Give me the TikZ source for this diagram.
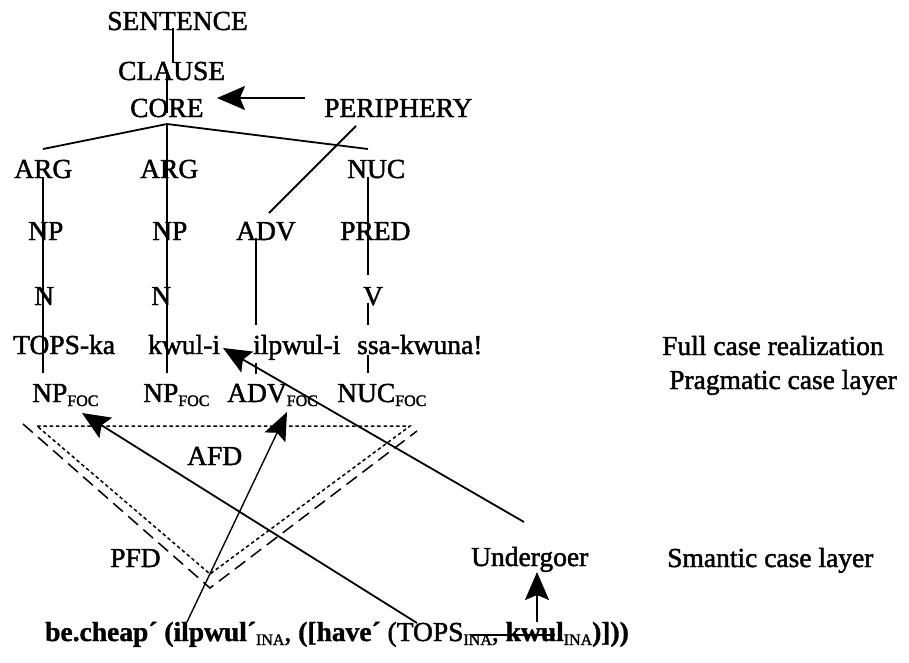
\documentclass[tikz,border=0pt]{standalone}
\usepackage{fontspec}
\setmainfont{Liberation Serif}[UprightFeatures={FakeBold=1.6},BoldFeatures={FakeBold=1.2}]
\usetikzlibrary{arrows.meta}
\newcommand{\lsub}[1]{\raisebox{-4pt}{\fontsize{16}{16}\selectfont #1}}
\tikzset{
  lbl/.style={anchor=base west,inner sep=0pt,font=\fontsize{27.5}{33}\selectfont},
  tree/.style={line width=1.8pt},
  bigarrow/.style={line width=1.8pt,-{Stealth[length=28pt,width=24pt,inset=5pt]}},
  thinarrow/.style={line width=1.4pt,-{Stealth[length=28pt,width=23pt,inset=5pt]}},
  afd/.style={line width=1.5pt,dash pattern=on 3.5pt off 2.8pt},
  pfd/.style={line width=1.5pt,dash pattern=on 13pt off 7pt},
}
\begin{document}
\begin{tikzpicture}[x=1pt,y=-1pt]
\useasboundingbox[fill=white] (0,0) rectangle (909,662);
% labels
\node[lbl] (sentence) at (107,30) {SENTENCE};
\node[lbl] (clause) at (118,80) {CLAUSE};
\node[lbl] (core) at (130,117) {CORE};
\node[lbl] (periphery) at (324,117) {PERIPHERY};
\node[lbl] (arg1) at (14,178) {ARG};
\node[lbl] (arg2) at (140,178) {ARG};
\node[lbl] (nuc) at (347,178) {NUC};
\node[lbl] (np1) at (28,240) {NP};
\node[lbl] (np2) at (152,240) {NP};
\node[lbl] (adv) at (236,240) {ADV};
\node[lbl] (pred) at (340,240) {PRED};
\node[lbl] (n1) at (34,305) {N};
\node[lbl] (n2) at (151,305) {N};
\node[lbl] (v) at (363,305) {V};
\node[lbl] (tops) at (13,354) {TOPS-ka};
\node[lbl] (kwul) at (148,354) {kwul-i};
\node[lbl] (ilpwul) at (253,354) {ilpwul-i};
\node[lbl] (ssa) at (357,354) {ssa-kwuna!};
\node[lbl] (full) at (662,355) {Full case realization};
\node[lbl] (npf1) at (32,402) {NP\lsub{FOC}};
\node[lbl] (npf2) at (143,402) {NP\lsub{FOC}};
\node[lbl] (advf) at (227,402) {ADV\lsub{FOC}};
\node[lbl] (nucf) at (337,402) {NUC\lsub{FOC}};
\node[lbl] (prag) at (669,389) {Pragmatic case layer};
\node[lbl] (afdl) at (187,465) {AFD};
\node[lbl] (pfdl) at (110,567) {PFD};
\node[lbl] (under) at (471,566) {Undergoer};
\node[lbl] (sem) at (667,567) {Smantic case layer};
\node[lbl] (formula) at (45,641) {\textbf{be.cheap´} \textbf{(ilpwul´}\lsub{INA}, \textbf{([have´} (TOPS\lsub{INA}, \textbf{kwul}\lsub{INA}\textbf{)]))}};
% tree coordinates
\coordinate (s1) at (173,28); \coordinate (s2) at (173,63);
\coordinate (c1) at (167,75); \coordinate (c2) at (167,113);
\coordinate (apex) at (167,124);
\coordinate (la) at (43,149); \coordinate (ra) at (368,149);
\coordinate (mb) at (167,373);
\coordinate (l1) at (43,177); \coordinate (l2) at (43,373);
\coordinate (r1) at (368,177); \coordinate (r2) at (368,275);
\coordinate (r3) at (368,303); \coordinate (r4) at (368,325);
\coordinate (r5) at (368,355); \coordinate (r6) at (368,373);
\coordinate (p1) at (356,126); \coordinate (p2) at (269,213);
\coordinate (a1) at (256,238); \coordinate (a2) at (256,325);
\coordinate (a3) at (256,363); \coordinate (a4) at (256,374);
\draw[tree] (s1) -- (s2);
\draw[tree] (c1) -- (c2);
\draw[tree] (la) -- (apex) -- (ra);
\draw[tree] (apex) -- (mb);
\draw[tree] (l1) -- (l2);
\draw[tree] (r1) -- (r2);
\draw[tree] (r3) -- (r4);
\draw[tree] (r5) -- (r6);
\draw[tree] (p1) -- (p2);
\draw[tree] (a1) -- (a2);
\draw[tree] (a3) -- (a4);
% focus domains
\coordinate (t1) at (37,426); \coordinate (t2) at (410,426); \coordinate (t3) at (210,574);
\coordinate (d1) at (23,424); \coordinate (d2) at (210,588); \coordinate (d3) at (417,431);
\draw[afd] (t1) -- (t2) -- (t3) -- cycle;
\draw[pfd] (d1) -- (d2) -- (d3);
% arrows
\coordinate (pa) at (305,98); \coordinate (ca) at (217,98);
\draw[bigarrow] (pa) -- (ca);
\coordinate (fa) at (417,623); \coordinate (na) at (82,413);
\draw[bigarrow] (fa) -- (na);
\coordinate (ia) at (187,622); \coordinate (va) at (287,412);
\draw[thinarrow] (ia) -- (va);
\coordinate (ua) at (524,522); \coordinate (ka) at (223,348);
\draw[bigarrow] (ua) -- (ka);
\coordinate (kb) at (537,622); \coordinate (ub) at (537,572);
\draw[bigarrow] (kb) -- (ub);
\coordinate (k1) at (470,635); \coordinate (k2) at (555,635);
\draw[line width=1.5pt] (k1) -- (k2);
\end{tikzpicture}
\end{document}
